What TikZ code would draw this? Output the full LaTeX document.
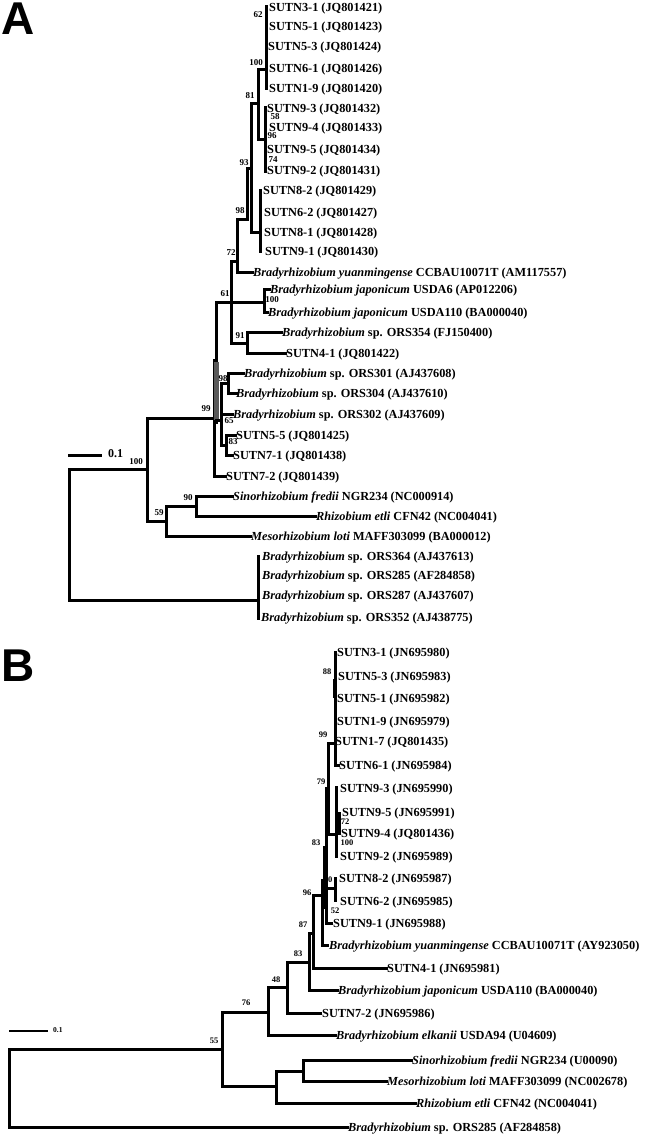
\documentclass[tikz,border=0pt]{standalone}
\usepackage{fontspec}
\setmainfont{Liberation Serif}
\newfontfamily\lettfont{Liberation Sans}
\newcommand\bi[1]{\textit{#1}}
\begin{document}
\begin{tikzpicture}[x=1pt,y=-1pt,
  br/.style={line width=3pt,line cap=rect},
  leaf/.style={anchor=base west,inner sep=0pt,font=\fontsize{12.3}{13}\selectfont\bfseries},
  bs/.style={inner sep=0pt,font=\fontsize{9}{9}\selectfont\bfseries},
  bsb/.style={inner sep=0pt,font=\fontsize{8.5}{9}\selectfont\bfseries},
  lett/.style={anchor=north west,inner sep=0pt,font=\fontsize{46}{48}\selectfont\lettfont\bfseries}]
\useasboundingbox (0,0) rectangle (650,1136);
\node[lett] (LA) at (1,3) {A};
\node[lett] (LB) at (1,650) {B};
% ---------- Tree A ----------
\draw[br] (147,469)--(69,469)--(69,600)--(258,600);
\draw[br] (258,556)--(258,618);
\draw[br] (147,418)--(147,521);
\draw[br] (147,418)--(214,418);
\draw[br] (214,360)--(214,476)--(225,476);
\draw[br] (147,521)--(166,521);
\draw[br] (166,506)--(166,536)--(250,536);
\draw[br] (166,506)--(196,506);
\draw[br] (196,496)--(196,516)--(315,516);
\draw[br] (196,496)--(232,496);
\draw[br] (214,360)--(216,360);
\draw[br] (216,302)--(216,422);
\draw[line width=4.5pt,gray!70!black] (216.5,362)--(216.5,420);
\draw[br] (216,302)--(231,302);
\draw[br] (231,261)--(231,343);
\draw[br] (231,302)--(264,302);
\draw[br] (264,289)--(264,312);
\draw[br] (264,289)--(269,289);
\draw[br] (264,312)--(267,312);
\draw[br] (231,343)--(247,343);
\draw[br] (247,332)--(247,353);
\draw[br] (247,332)--(281,332);
\draw[br] (247,353)--(285,353);
\draw[br] (231,261)--(237,261);
\draw[br] (237,219)--(237,272)--(252,272);
\draw[br] (237,219)--(247,219);
\draw[br] (247,168)--(247,219);
\draw[br] (247,168)--(251,168);
\draw[br] (251,103)--(251,232);
\draw[br] (251,103)--(258,103);
\draw[br] (258,69)--(258,139);
\draw[br] (258,69)--(266,69);
\draw[br] (266,6)--(266,88);
\draw[br] (258,139)--(265,139);
\draw[br] (265,107)--(265,171);
\draw[br] (251,232)--(260,232);
\draw[br] (260,190)--(260,251);
\draw[br] (216,420)--(221,420);
\draw[br] (221,383)--(221,445);
\draw[br] (221,383)--(228,383);
\draw[br] (228,373)--(228,393);
\draw[br] (228,373)--(243,373);
\draw[br] (228,393)--(236,393);
\draw[br] (221,414)--(232,414);
\draw[br] (221,445)--(226,445);
\draw[br] (226,435)--(226,455);
\draw[br] (226,435)--(235,435);
\draw[br] (226,455)--(232,455);
\draw[br] (69,455)--(100,455);
\node[anchor=west,inner sep=0pt,font=\fontsize{12}{13}\selectfont\bfseries] (sA) at (108,454) {0.1};
% leaves A
\node[leaf] (a1) at (269,11.5) {SUTN3-1 (JQ801421)};
\node[leaf] (a2) at (269,30.5) {SUTN5-1 (JQ801423)};
\node[leaf] (a3) at (268,50.5) {SUTN5-3 (JQ801424)};
\node[leaf] (a4) at (269,72.5) {SUTN6-1 (JQ801426)};
\node[leaf] (a5) at (269,92.5) {SUTN1-9 (JQ801420)};
\node[leaf] (a6) at (267,112.5) {SUTN9-3 (JQ801432)};
\node[leaf] (a7) at (269,131.5) {SUTN9-4 (JQ801433)};
\node[leaf] (a8) at (267,153.5) {SUTN9-5 (JQ801434)};
\node[leaf] (a9) at (267,174.5) {SUTN9-2 (JQ801431)};
\node[leaf] (a10) at (263,194.5) {SUTN8-2 (JQ801429)};
\node[leaf] (a11) at (264,216.5) {SUTN6-2 (JQ801427)};
\node[leaf] (a12) at (264,236.5) {SUTN8-1 (JQ801428)};
\node[leaf] (a13) at (265,255.5) {SUTN9-1 (JQ801430)};
\node[leaf] (a14) at (253,276.5) {\bi{Bradyrhizobium yuanmingense} CCBAU10071T (AM117557)};
\node[leaf] (a15) at (270,293.5) {\bi{Bradyrhizobium japonicum} USDA6 (AP012206)};
\node[leaf] (a16) at (268,316.5) {\bi{Bradyrhizobium japonicum} USDA110 (BA000040)};
\node[leaf] (a17) at (282,336.5) {\bi{Bradyrhizobium} sp. ORS354 (FJ150400)};
\node[leaf] (a18) at (286,357.5) {SUTN4-1 (JQ801422)};
\node[leaf] (a19) at (244,377.5) {\bi{Bradyrhizobium} sp. ORS301 (AJ437608)};
\node[leaf] (a20) at (236,397.5) {\bi{Bradyrhizobium} sp. ORS304 (AJ437610)};
\node[leaf] (a21) at (233,418.5) {\bi{Bradyrhizobium} sp. ORS302 (AJ437609)};
\node[leaf] (a22) at (236,439.5) {SUTN5-5 (JQ801425)};
\node[leaf] (a23) at (233,459.5) {SUTN7-1 (JQ801438)};
\node[leaf] (a24) at (226,480.5) {SUTN7-2 (JQ801439)};
\node[leaf] (a25) at (233,500.5) {\bi{Sinorhizobium fredii} NGR234 (NC000914)};
\node[leaf] (a26) at (316,520.5) {\bi{Rhizobium etli} CFN42 (NC004041)};
\node[leaf] (a27) at (251,540.5) {\bi{Mesorhizobium loti} MAFF303099 (BA000012)};
\node[leaf] (a28) at (262,560.5) {\bi{Bradyrhizobium} sp. ORS364 (AJ437613)};
\node[leaf] (a29) at (262,579.5) {\bi{Bradyrhizobium} sp. ORS285 (AF284858)};
\node[leaf] (a30) at (262,599.5) {\bi{Bradyrhizobium} sp. ORS287 (AJ437607)};
\node[leaf] (a31) at (261,621.5) {\bi{Bradyrhizobium} sp. ORS352 (AJ438775)};
% bootstrap A
\node[bs] (ba1) at (258,15) {62};
\node[bs] (ba2) at (256,63) {100};
\node[bs] (ba3) at (250,96) {81};
\node[bs] (ba4) at (275,117) {58};
\node[bs] (ba5) at (272,136) {96};
\node[bs] (ba6) at (273,160) {74};
\node[bs] (ba7) at (244,163) {93};
\node[bs] (ba8) at (240,211) {98};
\node[bs] (ba9) at (231,253) {72};
\node[bs] (ba10) at (225,294) {61};
\node[bs] (ba11) at (272,300) {100};
\node[bs] (ba12) at (240,336) {91};
\node[bs] (ba13) at (223,379) {98};
\node[bs] (ba14) at (229,421) {65};
\node[bs] (ba15) at (233,442) {83};
\node[bs] (ba16) at (206,409) {99};
\node[bs] (ba17) at (136,462) {100};
\node[bs] (ba18) at (188,498) {90};
\node[bs] (ba19) at (159,513) {59};
% ---------- Tree B ----------
\draw[br] (222,1049)--(9,1049)--(9,1127)--(347,1127);
\draw[br] (222,1012)--(222,1086);
\draw[br] (222,1012)--(268,1012);
\draw[br] (268,987)--(268,1035)--(335,1035);
\draw[br] (268,987)--(287,987);
\draw[br] (287,962)--(287,1013)--(320,1013);
\draw[br] (287,962)--(309,962);
\draw[br] (309,933)--(309,990)--(337,990);
\draw[br] (309,933)--(313,933);
\draw[br] (313,895)--(313,968)--(386,968);
\draw[br] (313,895)--(322,895);
\draw[br] (322,880)--(322,945)--(327,945);
\draw[br] (322,880)--(324,880);
\draw[line width=4.5pt,gray!70!black] (325,847)--(325,907);
\draw[br] (324,847)--(324,907);
\draw[br] (326,788)--(326,903);
\draw[br] (328,743)--(328,834);
\draw[br] (326,788)--(328,788);
\draw[br] (328,743)--(335,743);
\draw[br] (335,652)--(335,765)--(338,765);
\draw[line width=4.5pt] (335,679)--(335,698);
\draw[br] (328,834)--(336,834);
\draw[br] (336,787)--(336,856);
\draw[br] (336,823)--(339,823);
\draw[br] (339,813)--(339,833);
\draw[br] (324,888)--(335,888);
\draw[br] (335,878)--(335,900);
\draw[br] (326,888)--(326,923)--(331,923);
\draw[br] (222,1086)--(276,1086);
\draw[br] (276,1071)--(276,1103)--(415,1103);
\draw[br] (276,1071)--(303,1071);
\draw[br] (303,1060)--(303,1081)--(386,1081);
\draw[br] (303,1060)--(411,1060);
\draw[line width=2pt] (9,1031)--(48,1031);
\node[anchor=west,inner sep=0pt,font=\fontsize{7.5}{8}\selectfont\bfseries] (sB) at (53,1030) {0.1};
% leaves B
\node[leaf] (b1) at (337,656.5) {SUTN3-1 (JN695980)};
\node[leaf] (b2) at (338,680.5) {SUTN5-3 (JN695983)};
\node[leaf] (b3) at (337,702.5) {SUTN5-1 (JN695982)};
\node[leaf] (b4) at (337,725.5) {SUTN1-9 (JN695979)};
\node[leaf] (b5) at (335,745.5) {SUTN1-7 (JQ801435)};
\node[leaf] (b6) at (339,769.5) {SUTN6-1 (JN695984)};
\node[leaf] (b7) at (340,792.5) {SUTN9-3 (JN695990)};
\node[leaf] (b8) at (342,816.5) {SUTN9-5 (JN695991)};
\node[leaf] (b9) at (341,837.5) {SUTN9-4 (JQ801436)};
\node[leaf] (b10) at (340,860.5) {SUTN9-2 (JN695989)};
\node[leaf] (b11) at (339,882.5) {SUTN8-2 (JN695987)};
\node[leaf] (b12) at (340,905.5) {SUTN6-2 (JN695985)};
\node[leaf] (b13) at (333,927.5) {SUTN9-1 (JN695988)};
\node[leaf] (b14) at (329,949.5) {\bi{Bradyrhizobium yuanmingense} CCBAU10071T (AY923050)};
\node[leaf] (b15) at (387,972.5) {SUTN4-1 (JN695981)};
\node[leaf] (b16) at (338,994.5) {\bi{Bradyrhizobium japonicum} USDA110 (BA000040)};
\node[leaf] (b17) at (322,1017.5) {SUTN7-2 (JN695986)};
\node[leaf] (b18) at (336,1039.5) {\bi{Bradyrhizobium elkanii} USDA94 (U04609)};
\node[leaf] (b19) at (412,1064.5) {\bi{Sinorhizobium fredii} NGR234 (U00090)};
\node[leaf] (b20) at (387,1085.5) {\bi{Mesorhizobium loti} MAFF303099 (NC002678)};
\node[leaf] (b21) at (416,1107.5) {\bi{Rhizobium etli} CFN42 (NC004041)};
\node[leaf] (b22) at (348,1131.5) {\bi{Bradyrhizobium} sp. ORS285 (AF284858)};
% bootstrap B
\node[bsb] (bb1) at (327,672) {88};
\node[bsb] (bb2) at (323,735) {99};
\node[bsb] (bb3) at (321,782) {79};
\node[bsb] (bb4) at (345,822) {72};
\node[bsb] (bb5) at (316,843) {83};
\node[bsb] (bb6) at (347,843) {100};
\node[bsb] (bb7) at (328,880) {10};
\node[bsb] (bb8) at (335,911) {52};
\node[bsb] (bb9) at (307,893) {96};
\node[bsb] (bb10) at (303,925) {87};
\node[bsb] (bb11) at (298,954) {83};
\node[bsb] (bb12) at (276,980) {48};
\node[bsb] (bb13) at (246,1003) {76};
\node[bsb] (bb14) at (214,1041) {55};
\end{tikzpicture}
\end{document}
